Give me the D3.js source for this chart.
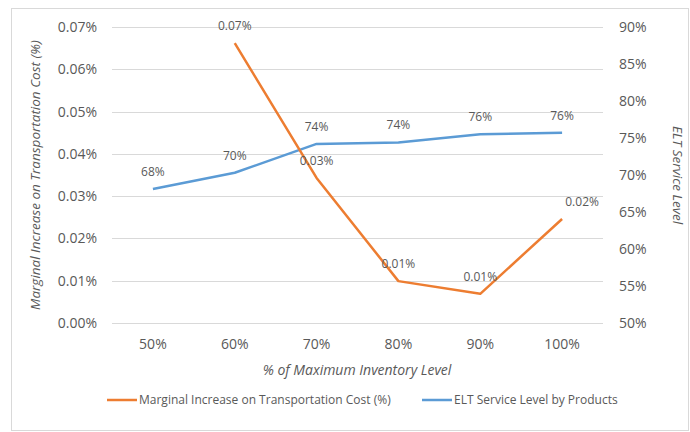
<!DOCTYPE html>
<html>
<head>
<meta charset="utf-8">
<script src="https://cdn.jsdelivr.net/npm/d3@7"></script>
<style>
  body { margin: 0; background: #fff; }
  text { font-family: "Open Sans", sans-serif; fill: #595959; }
</style>
</head>
<body>
<svg id="chart" width="690" height="432"></svg>
<script>
var categories = ["50%", "60%", "70%", "80%", "90%", "100%"];
// marginal increase on transportation cost, in % (null = no value)
var costValues = [null, 0.0662, 0.0343, 0.0099, 0.0069, 0.0246];
var costLabels = [null, "0.07%", "0.03%", "0.01%", "0.01%", "0.02%"];
// ELT service level, in %
var serviceValues = [68.1, 70.3, 74.2, 74.4, 75.5, 75.7];
var serviceLabels = ["68%", "70%", "74%", "74%", "76%", "76%"];
var leftTicks = [0, 0.01, 0.02, 0.03, 0.04, 0.05, 0.06, 0.07];
var rightTicks = [50, 55, 60, 65, 70, 75, 80, 85, 90];

(function () {
  var svg = d3.select('#chart');
  var plotLeft = 112, plotRight = 603, plotTop = 27, plotBottom = 323;

  svg.append('rect')
    .attr('x', 11.5).attr('y', 8.5)
    .attr('width', 677).attr('height', 422)
    .attr('fill', 'none').attr('stroke', '#d9d9d9');

  var x = d3.scaleBand().domain(categories).range([plotLeft, plotRight]);
  var yL = d3.scaleLinear().domain([0, 0.07]).range([plotBottom, plotTop]);
  var yR = d3.scaleLinear().domain([50, 90]).range([plotBottom, plotTop]);

  // gridlines
  svg.selectAll('.grid')
    .data(leftTicks)
    .enter()
    .append('line')
    .attr('class', 'grid')
    .attr('x1', plotLeft).attr('x2', plotRight)
    .attr('y1', function(d) {return Math.round(yL(d)) + 0.5;})
    .attr('y2', function(d) {return Math.round(yL(d)) + 0.5;})
    .attr('stroke', '#d9d9d9');

  var leftAxis = svg.append('g')
    .attr('transform', 'translate(' + plotLeft + ',0)')
    .call(d3.axisLeft(yL).tickValues(leftTicks).tickSize(0).tickPadding(15)
      .tickFormat(function(d) {return d.toFixed(2) + '%';}));
  var rightAxis = svg.append('g')
    .attr('transform', 'translate(' + plotRight + ',0)')
    .call(d3.axisRight(yR).tickValues(rightTicks).tickSize(0).tickPadding(16)
      .tickFormat(function(d) {return d + '%';}));
  var bottomAxis = svg.append('g')
    .attr('transform', 'translate(0,' + plotBottom + ')')
    .call(d3.axisBottom(x).tickSize(0).tickPadding(16));
  [leftAxis, rightAxis, bottomAxis].forEach(function(g) {
    g.select('.domain').remove();
    g.selectAll('text')
      .attr('font-size', '14px')
      .attr('font-family', '"Open Sans", sans-serif')
      .attr('fill', '#595959');
  });

  function cx(d, i) {return x(categories[i]) + x.bandwidth() / 2;}

  var costLine = d3.line()
    .defined(function(d) {return d !== null;})
    .x(cx)
    .y(function(d) {return yL(d);});
  var serviceLine = d3.line()
    .x(cx)
    .y(function(d) {return yR(d);});

  svg.append('path')
    .datum(serviceValues)
    .attr('d', serviceLine)
    .attr('fill', 'none')
    .attr('stroke', '#5b9bd5')
    .attr('stroke-width', 2.5)
    .attr('stroke-linejoin', 'round');
  svg.append('path')
    .datum(costValues)
    .attr('d', costLine)
    .attr('fill', 'none')
    .attr('stroke', '#ed7d31')
    .attr('stroke-width', 2.5)
    .attr('stroke-linejoin', 'round');

  // data labels
  svg.selectAll('.svc-label')
    .data(serviceValues)
    .enter()
    .append('text')
    .attr('class', 'svc-label')
    .attr('x', cx)
    .attr('y', function(d) {return yR(d) - 13;})
    .attr('text-anchor', 'middle')
    .attr('font-size', '12px')
    .text(function(d, i) {return serviceLabels[i];});
  svg.selectAll('.cost-label')
    .data(costValues)
    .enter()
    .append('text')
    .attr('class', 'cost-label')
    .attr('x', function(d, i) {
      return cx(d, i) + (i === costValues.length - 1 ? 20 : 0);
    })
    .attr('y', function(d) {return d === null ? 0 : yL(d) - 13;})
    .attr('text-anchor', 'middle')
    .attr('font-size', '12px')
    .text(function(d, i) {return costLabels[i] || '';});

  // axis titles
  svg.append('text')
    .attr('transform', 'translate(40,175) rotate(-90)')
    .attr('text-anchor', 'middle')
    .attr('font-size', '13.5px')
    .attr('font-style', 'italic')
    .text('Marginal Increase on Transportation Cost (%)');
  svg.append('text')
    .attr('transform', 'translate(673,175) rotate(90)')
    .attr('text-anchor', 'middle')
    .attr('font-size', '13.5px')
    .attr('font-style', 'italic')
    .text('ELT Service Level');
  svg.append('text')
    .attr('x', 357).attr('y', 375)
    .attr('text-anchor', 'middle')
    .attr('font-size', '14px')
    .attr('font-style', 'italic')
    .text('% of Maximum Inventory Level');

  // legend
  var legend = [
    {name: 'Marginal Increase on Transportation Cost (%)', color: '#ed7d31', x: 107},
    {name: 'ELT Service Level by Products', color: '#5b9bd5', x: 422}
  ];
  var lg = svg.selectAll('.legend')
    .data(legend)
    .enter()
    .append('g')
    .attr('class', 'legend')
    .attr('transform', function(d) {return 'translate(' + d.x + ',400)';});
  lg.append('line')
    .attr('x1', 0).attr('x2', 30)
    .attr('stroke', function(d) {return d.color;})
    .attr('stroke-width', 2.5);
  lg.append('text')
    .attr('x', 32).attr('y', 4)
    .attr('font-size', '12px')
    .text(function(d) {return d.name;});
})();
</script>
</body>
</html>
